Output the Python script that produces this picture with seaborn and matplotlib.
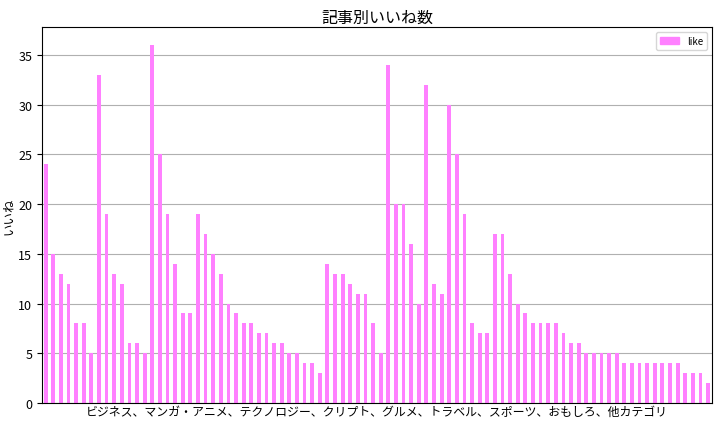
import pandas as pd
import matplotlib
matplotlib.use("Agg")
import matplotlib.pyplot as plt
from matplotlib.patches import Patch
import seaborn as sns

plt.rcParams['font.family'] = ['Noto Sans CJK JP', 'DejaVu Sans']

# 記事ごとのいいね数
likes = [24, 15, 13, 12, 8, 8, 5, 33, 19, 13, 12, 6, 6, 5, 36, 25, 19, 14, 9, 9,
         19, 17, 15, 13, 10, 9, 8, 8, 7, 7, 6, 6, 5, 5, 4, 4, 3,
         14, 13, 13, 12, 11, 11, 8, 5, 34, 20, 20, 16, 10, 32, 12, 11,
         30, 25, 19, 8, 7, 7, 17, 17, 13, 10, 9, 8, 8, 8, 8, 7, 6, 6,
         5, 5, 5, 5, 5, 4, 4, 4, 4, 4, 4, 4, 4, 3, 3, 3, 2]
articles = [f"article_{i}" for i in range(len(likes))]

TITLE = "記事別いいね数"
XLABEL = "ビジネス、マンガ・アニメ、テクノロジー、クリプト、グルメ、トラベル、スポーツ、おもしろ、他カテゴリ"
YLABEL = "いいね"
BAR_COLOR = "#ff80ff"

df = pd.DataFrame({"article": articles, "like": likes})

fig, ax = plt.subplots(figsize=(7.22, 4.27), dpi=100)
sns.barplot(data=df, x="article", y="like", color=BAR_COLOR, width=0.5,
            saturation=1, ax=ax)

ax.set_xlim(-0.5, len(likes) - 0.5)
ax.set_xticks([])
ax.tick_params(axis="y", labelsize=9)
ax.set_title(TITLE, fontsize=11.5, pad=4)
ax.set_xlabel(XLABEL, fontsize=8.6, labelpad=1.5)
ax.set_ylabel(YLABEL, fontsize=9, labelpad=2)
ax.yaxis.grid(True, color="#b0b0b0", linewidth=0.8)
ax.set_axisbelow(True)
ax.legend(handles=[Patch(color=BAR_COLOR, label="like")], loc="upper right",
          fontsize=7)

plt.subplots_adjust(left=0.058, right=0.986, top=0.934, bottom=0.054)
plt.savefig("out.png", dpi=100)
plt.close()
